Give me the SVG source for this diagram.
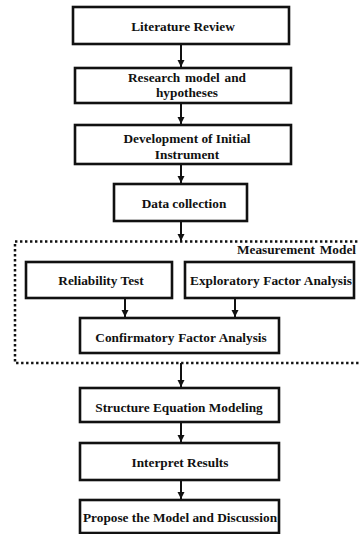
<svg xmlns="http://www.w3.org/2000/svg" width="359" height="534" viewBox="0 0 359 534">
<style>
.box{fill:#fff;stroke:#111;stroke-width:2.6}
.t{font-family:"Liberation Serif","Times New Roman",serif;font-weight:bold;font-size:13.3px;fill:#111;text-anchor:middle}
.c{stroke:#111;stroke-width:2;fill:none}
.dot{fill:none;stroke:#111;stroke-width:2.5;stroke-dasharray:2.4 2.6}
</style>
<defs>
<marker id="ah" markerUnits="userSpaceOnUse" markerWidth="8" markerHeight="8" refX="7" refY="4" orient="auto">
<path d="M0,0.5 L7,4 L0,7.5 Z" fill="#111"/>
</marker>
</defs>
<rect width="359" height="534" fill="#fff"/>
<g id="measurement-model">
<rect class="dot" x="15" y="241.5" width="346" height="121.5"/>
<text class="t" x="356" y="254" style="text-anchor:end" word-spacing="1.5">Measurement Model</text>
</g>
<g id="connectors">
<line class="c" x1="181" y1="44" x2="181" y2="67" marker-end="url(#ah)"/>
<line class="c" x1="181" y1="103" x2="181" y2="124" marker-end="url(#ah)"/>
<line class="c" x1="181" y1="164" x2="181" y2="183" marker-end="url(#ah)"/>
<line class="c" x1="181" y1="221" x2="181" y2="241" marker-end="url(#ah)"/>
<line class="c" x1="125" y1="298" x2="125" y2="317" marker-end="url(#ah)"/>
<line class="c" x1="235" y1="298" x2="235" y2="317" marker-end="url(#ah)"/>
<line class="c" x1="181" y1="363" x2="181" y2="387" marker-end="url(#ah)"/>
<line class="c" x1="181" y1="422" x2="181" y2="442" marker-end="url(#ah)"/>
<line class="c" x1="181" y1="480" x2="181" y2="499" marker-end="url(#ah)"/>
</g>
<g id="literature-review">
<rect class="box" x="73" y="7" width="216" height="37"/>
<text class="t" x="183" y="31">Literature Review</text>
</g>
<g id="research-model">
<rect class="box" x="75" y="68" width="216" height="35"/>
<text class="t" x="187" y="82" word-spacing="1.5">Research model and</text>
<text class="t" x="187" y="97">hypotheses</text>
</g>
<g id="initial-instrument">
<rect class="box" x="75" y="125" width="216" height="39"/>
<text class="t" x="187" y="143">Development of Initial</text>
<text class="t" x="187" y="159">Instrument</text>
</g>
<g id="data-collection">
<rect class="box" x="114" y="184" width="133" height="37"/>
<text class="t" x="184" y="208">Data collection</text>
</g>
<g id="reliability-test">
<rect class="box" x="26" y="262" width="146" height="36"/>
<text class="t" x="101" y="285">Reliability Test</text>
</g>
<g id="efa">
<rect class="box" x="185" y="262" width="169" height="36"/>
<text class="t" x="271" y="285" word-spacing="0.5">Exploratory Factor Analysis</text>
</g>
<g id="cfa">
<rect class="box" x="80" y="318" width="199" height="35"/>
<text class="t" x="181" y="342" word-spacing="0.5">Confirmatory Factor Analysis</text>
</g>
<g id="sem">
<rect class="box" x="80" y="388" width="199" height="34"/>
<text class="t" x="179" y="412">Structure Equation Modeling</text>
</g>
<g id="interpret-results">
<rect class="box" x="80" y="443" width="199" height="37"/>
<text class="t" x="180" y="467">Interpret Results</text>
</g>
<g id="propose-model">
<rect class="box" x="80" y="500" width="199" height="33"/>
<text class="t" x="180" y="522">Propose the Model and Discussion</text>
</g>
</svg>
